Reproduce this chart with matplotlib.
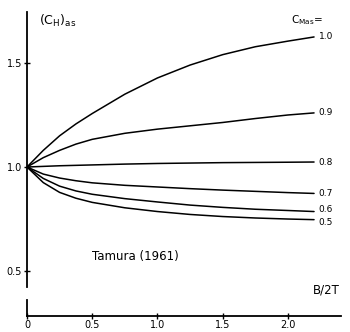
import matplotlib
matplotlib.use("Agg")
import matplotlib.pyplot as plt
from matplotlib.lines import Line2D

# Tamura (1961): asymptotic sway coefficient vs. beam/draught ratio
b2t = [0.0, 0.125, 0.25, 0.375, 0.5, 0.75, 1.0, 1.25, 1.5, 1.75, 2.0, 2.2]
c_mas_labels = ["1.0", "0.9", "0.8", "0.7", "0.6", "0.5"]
ch_10 = [1.0, 1.08, 1.15, 1.207, 1.257, 1.35, 1.428, 1.49, 1.54, 1.578, 1.605, 1.625]
ch_09 = [1.0, 1.045, 1.08, 1.11, 1.133, 1.162, 1.182, 1.198, 1.214, 1.233, 1.25, 1.26]
ch_08 = [1.0, 1.003, 1.006, 1.008, 1.01, 1.014, 1.017, 1.019, 1.021, 1.022, 1.023, 1.024]
ch_07 = [1.0, 0.966, 0.947, 0.934, 0.924, 0.912, 0.904, 0.896, 0.889, 0.883, 0.877, 0.873]
ch_06 = [1.0, 0.945, 0.908, 0.885, 0.869, 0.848, 0.832, 0.817, 0.806, 0.797, 0.791, 0.786]
ch_05 = [1.0, 0.925, 0.878, 0.85, 0.83, 0.804, 0.786, 0.772, 0.762, 0.755, 0.75, 0.747]
x_ticks = [0, 0.5, 1.0, 1.5, 2.0]
x_ticklabels = ["0", "0.5", "1.0", "1.5", "2.0"]
y_ticks = [0.5, 1.0, 1.5]
y_ticklabels = ["0.5", "1.0", "1.5"]

series = [ch_10, ch_09, ch_08, ch_07, ch_06, ch_05]
label_offsets = [0.0, 0.0, 0.0, 0.0, 0.012, -0.012]

fig = plt.figure(figsize=(3.5, 3.32), dpi=100)
ax = fig.add_axes([0.0771, 0.0482, 0.897, 0.9157])
ax.set_xlim(0, 2.406)
ax.set_ylim(0.284, 1.745)

for vals, lab, off in zip(series, c_mas_labels, label_offsets):
    ax.plot(b2t, vals, color="black", lw=1.1, solid_capstyle="round",
            solid_joinstyle="round")
    ax.text(b2t[-1] + 0.035, vals[-1] + off, lab, fontsize=6.5,
            va="center", ha="left")

for s in ["top", "right"]:
    ax.spines[s].set_visible(False)
ax.spines["left"].set_bounds(0.423, 1.745)
ax.spines["left"].set_linewidth(1.3)
ax.spines["bottom"].set_linewidth(1.3)
# short lower stub of the broken ordinate
ax.add_line(Line2D([0, 0], [0.284, 0.36], color="black", lw=1.3,
                   clip_on=False))

ax.set_xticks(x_ticks)
ax.set_xticklabels(x_ticklabels, fontsize=7)
ax.set_yticks(y_ticks)
ax.set_yticklabels(y_ticklabels, fontsize=7)
ax.tick_params(direction="inout", length=4, width=1.0, pad=1.5)
ax.tick_params(axis="x", pad=1)

ax.text(0.09, 1.70, r"$(\mathrm{C}_{\mathrm{H}})_{\mathrm{as}}$",
        fontsize=9, ha="left", va="center")
ax.text(2.02, 1.705, r"$\mathrm{C}_{\mathrm{Mas}}$=", fontsize=7.5,
        ha="left", va="center")
ax.text(0.83, 0.572, "Tamura (1961)", fontsize=8.5, ha="center",
        va="center")
ax.text(2.40, 0.41, "B/2T", fontsize=8.5, ha="right", va="center")

fig.savefig("out.png", dpi=100)
